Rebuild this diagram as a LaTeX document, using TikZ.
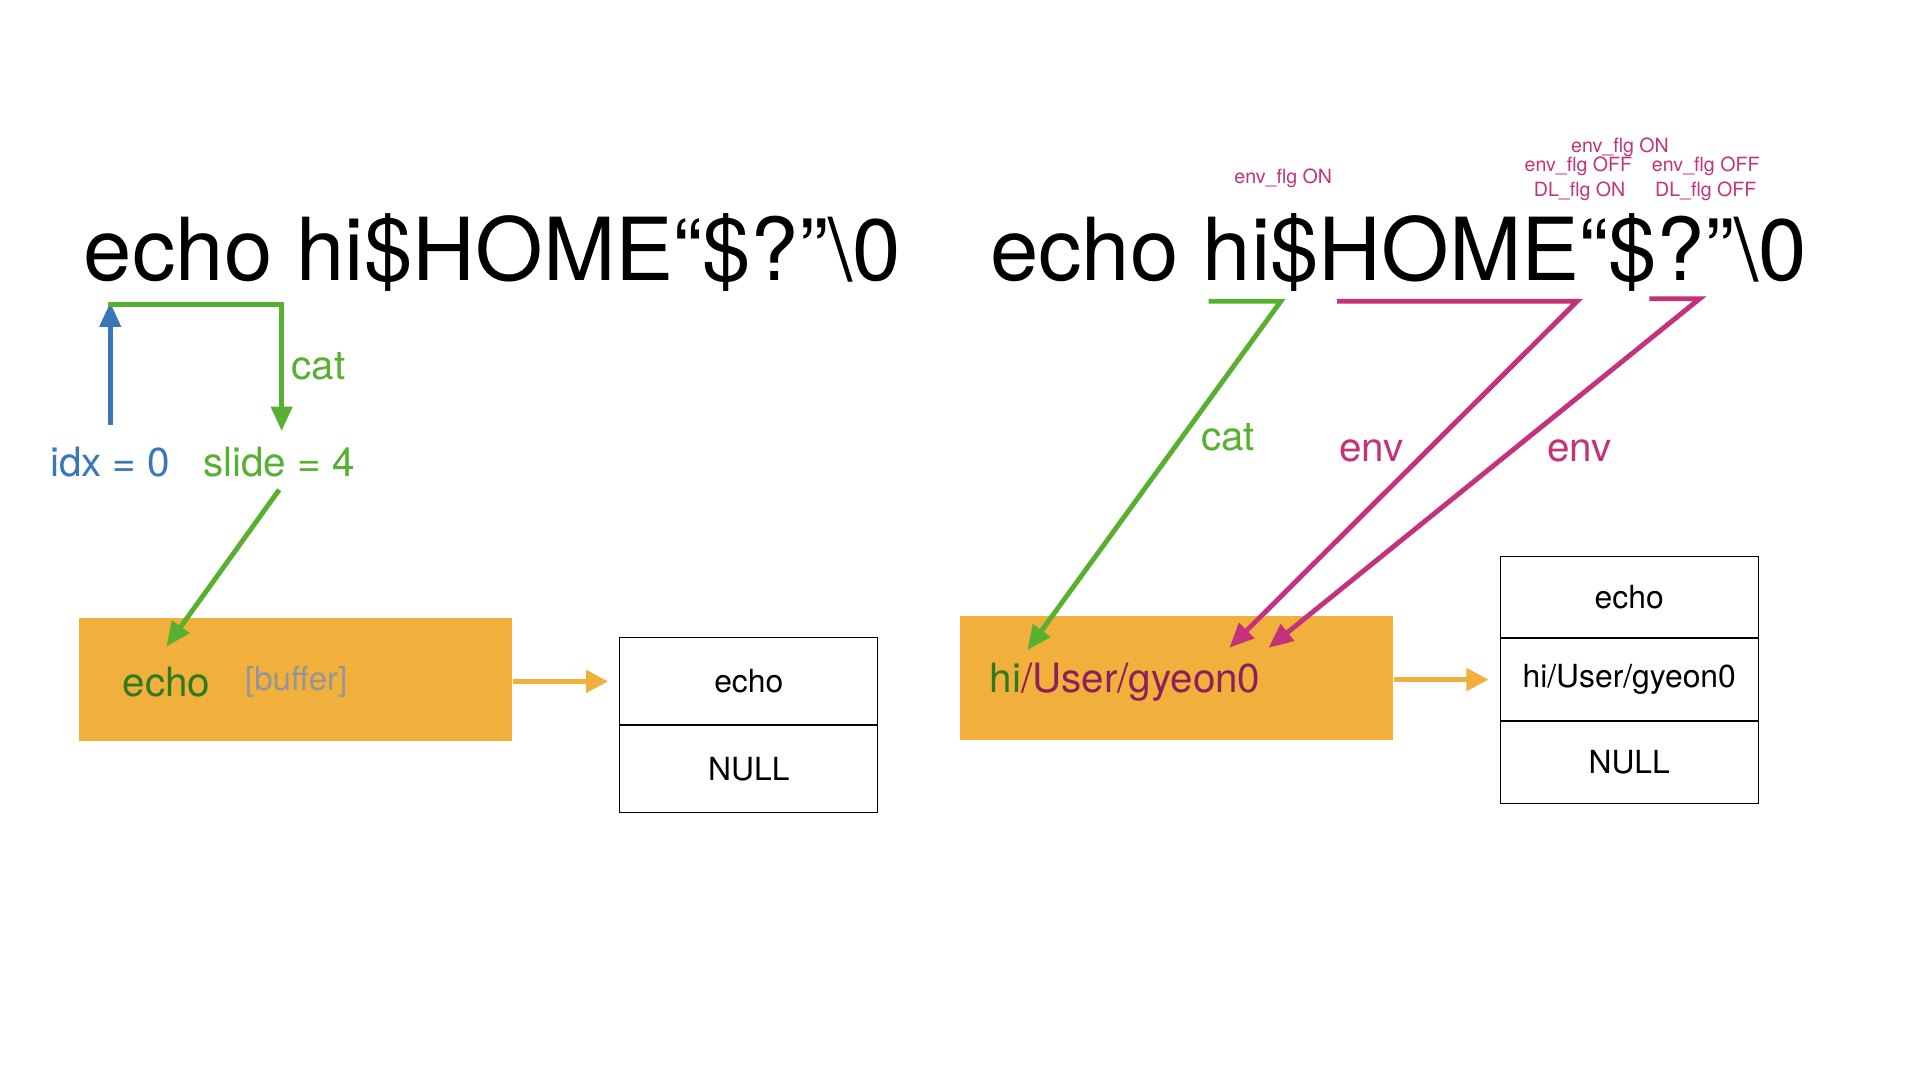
\documentclass[tikz,border=0pt]{standalone}
\usepackage{fontspec}
\setmainfont{TeX Gyre Heros}
\usetikzlibrary{arrows.meta}
\definecolor{cblue}{HTML}{3A77B8}
\definecolor{cgreen}{HTML}{58B030}
\definecolor{cmag}{HTML}{C3327A}
\definecolor{corange}{HTML}{F1B03C}
\definecolor{dgreen}{HTML}{2F7A1E}
\definecolor{dmag}{HTML}{8E1E5C}
\definecolor{cgray}{HTML}{959595}
\begin{document}
\begin{tikzpicture}[x=1pt,y=-1pt,
 tipA/.style={-{Triangle[length=20pt,width=17pt]}},
 conn/.style={line width=4pt, line join=miter, tipA},
 title/.style={font=\fontsize{71}{80}\selectfont, anchor=base, inner sep=0},
 lbl/.style={font=\fontsize{33}{38}\selectfont, inner sep=0},
 flag/.style={font=\fontsize{16}{18}\selectfont, text=cmag, inner sep=0},
 buf/.style={fill=corange, draw=none, minimum width=354pt, minimum height=101pt, inner sep=0},
 cell/.style={draw=black, line width=0.8pt, minimum width=211pt, font=\fontsize{26}{30}\selectfont, inner sep=0},
]
\useasboundingbox[fill=white] (0,0) rectangle (1568,882);

% ---------- left ----------
\node[title] (t1) at (402,229) {echo hi\$HOME“\$?”\textbackslash 0};
\node[lbl, text=cblue] (idx) at (90,377) {idx = 0};
\node[lbl, text=cgreen] (slide) at (228,377) {slide = 4};
\node[lbl, text=cgreen] (cat1) at (260,299) {cat};

\coordinate (b0) at (90,347);
\coordinate (b1) at (90,247);
\draw[conn, cblue] (b0) -- (b1);
\coordinate (g0) at (88,249);
\coordinate (g1) at (230,249);
\coordinate (g2) at (230,352);
\draw[conn, cgreen] (g0) -- (g1) -- (g2);

\node[buf] (buf1) at (241.5,555) {};
\node[lbl, text=dgreen, anchor=west] (e1) at (100,557) {echo};
\node[font=\fontsize{27}{30}\selectfont, inner sep=0, text=cgray, anchor=west] (bf) at (200,557) {[buffer]};

\coordinate (s0) at (228,400);
\coordinate (s1) at (136,528);
\draw[conn, cgreen] (s0) -- (s1);

\node[cell, minimum height=71pt] (c1) at (611.5,556.5) {echo};
\node[cell, minimum height=71pt, anchor=north] (c2) at (c1.south) {NULL};
\draw[line width=4pt, corange, -{Triangle[length=18pt,width=18pt]}, shorten >=9pt] (buf1.east |- c1.west) -- (c1.west);

% ---------- right ----------
\node[title] (t2) at (1142,229) {echo hi\$HOME“\$?”\textbackslash 0};
\node[flag] (f1) at (1048,146) {env\_flg ON};
\node[flag] (f2) at (1323,120) {env\_flg ON};
\node[flag] (f3) at (1289,136) {env\_flg OFF};
\node[flag] (f4) at (1290,156) {DL\_flg ON};
\node[flag] (f5) at (1393,136) {env\_flg OFF};
\node[flag] (f6) at (1393,156) {DL\_flg OFF};

\node[buf] (buf2) at (961,553.5) {};
\node[lbl, anchor=west] (e2) at (808,557) {\textcolor{dgreen}{hi}\textcolor{dmag}{/User/gyeon0}};

\coordinate (h0) at (987,246);
\coordinate (h1) at (1046,246);
\coordinate (h2) at (839,531);
\draw[conn, cgreen] (h0) -- (h1) -- (h2);
\coordinate (m0) at (1092,246);
\coordinate (m1) at (1288,246);
\coordinate (m2) at (1004,529);
\draw[conn, cmag] (m0) -- (m1) -- (m2);
\coordinate (n0) at (1347,244);
\coordinate (n1) at (1388,244);
\coordinate (n2) at (1036,529);
\draw[conn, cmag] (n0) -- (n1) -- (n2);

\node[lbl, text=cgreen] (cat2) at (1003,357) {cat};
\node[lbl, text=cmag] (env1) at (1120,368) {env};
\node[lbl, text=cmag] (env2) at (1290,368) {env};

\node[cell, minimum height=66.7pt] (d1) at (1330.5,487.5) {echo};
\node[cell, minimum height=66.7pt, anchor=north] (d2) at (d1.south) {hi/User/gyeon0};
\node[cell, minimum height=66.7pt, anchor=north] (d3) at (d2.south) {NULL};
\draw[line width=4pt, corange, -{Triangle[length=18pt,width=18pt]}, shorten >=9pt] (buf2.east |- d2.west) -- (d2.west);
\end{tikzpicture}
\end{document}
